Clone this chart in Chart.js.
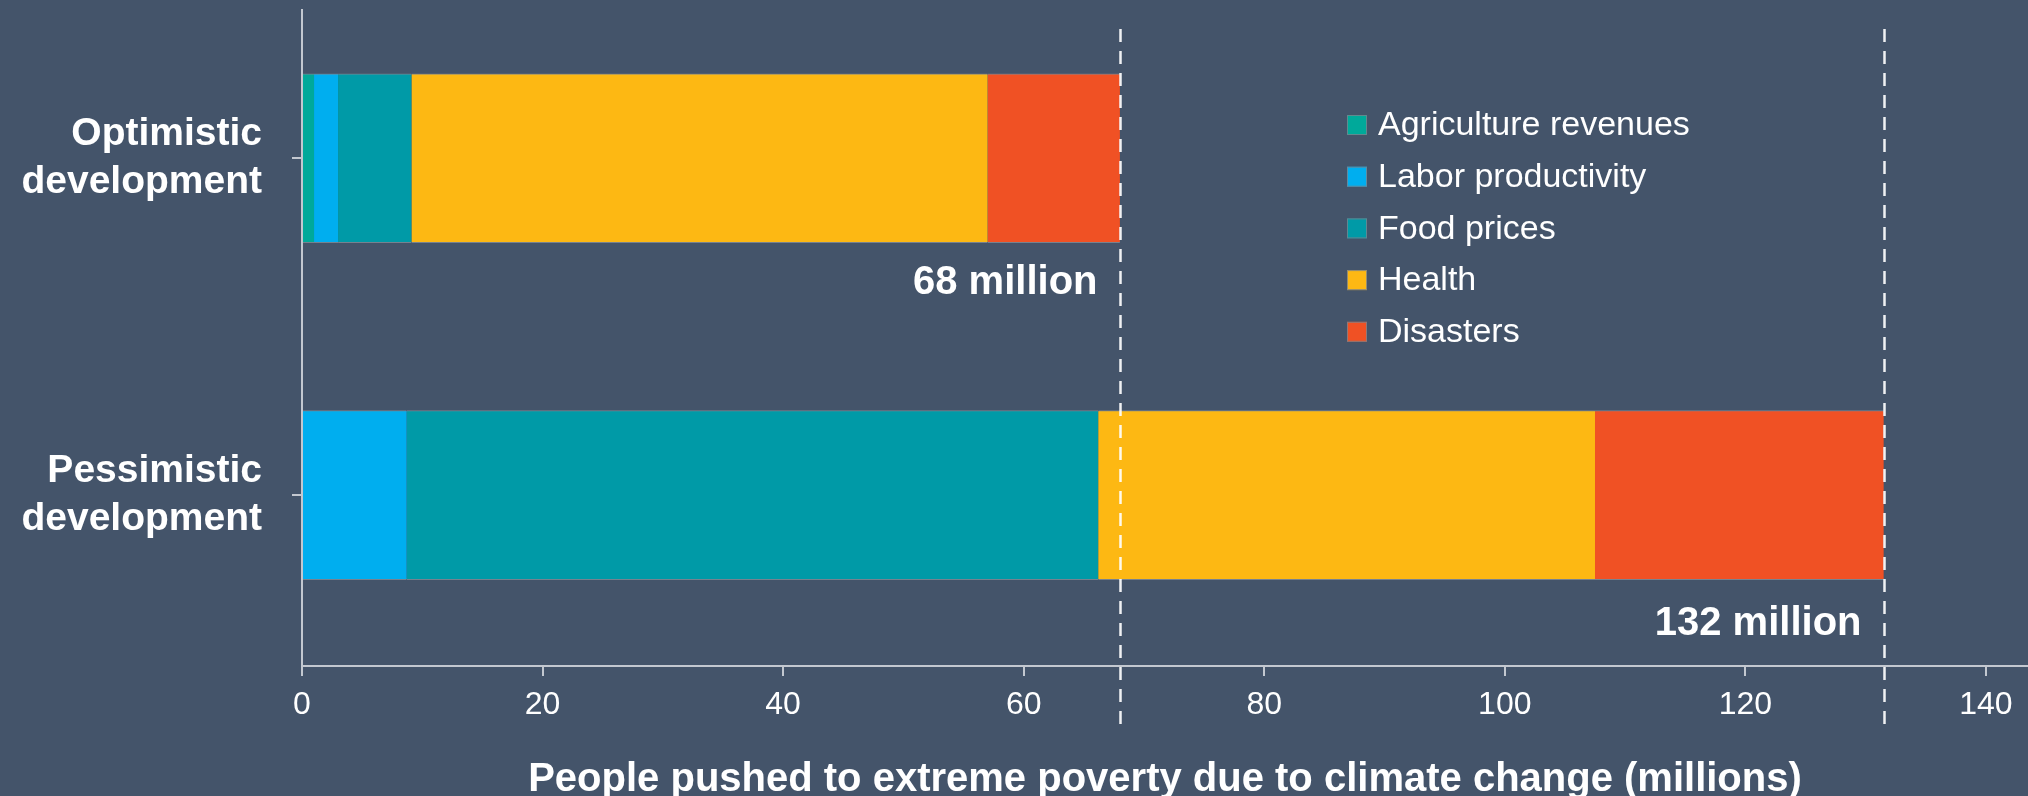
<!DOCTYPE html>
<html>
<head>
<meta charset="utf-8">
<script src="https://cdn.jsdelivr.net/npm/chart.js@4/dist/chart.umd.min.js"></script>
<style>
  html, body { margin: 0; padding: 0; background: #44546A; }
  #wrap { width: 2028px; height: 796px; position: relative; }
  canvas { display: block; }
</style>
</head>
<body>
<div id="wrap"><canvas id="c" width="2028" height="796"></canvas></div>
<script>
// ---- data ----
const categories = [['Optimistic', 'development'], ['Pessimistic', 'development']];
const seriesNames = ['Agriculture revenues', 'Labor productivity', 'Food prices', 'Health', 'Disasters'];
const agricultureRevenues = [1.0, 0];
const laborProductivity = [2.0, 8.7];
const foodPrices = [6.1, 57.5];
const health = [47.9, 41.3];
const disasters = [11.0, 24.0];
const totalLabels = ['68 million', '132 million'];
const xTickValues = [0, 20, 40, 60, 80, 100, 120, 140];
const axisTitle = 'People pushed to extreme poverty due to climate change (millions)';

// ---- styles ----
const BG = '#44546A';
const seriesColors = ['#00A99A', '#00AEEF', '#009AA7', '#FDB813', '#F05124'];
const FONT = "'Liberation Sans', Arial, Helvetica, sans-serif";
const AXIS = '#c3c8d0';

const seriesValues = [agricultureRevenues, laborProductivity, foodPrices, health, disasters];
const totals = categories.map((c, i) => seriesValues.reduce((s, arr) => s + arr[i], 0));

const datasets = seriesNames.map((name, k) => ({
  label: name,
  data: seriesValues[k].map((v, i) => ({ x: v, y: i })),
  backgroundColor: seriesColors[k],
  borderColor: 'rgba(125,135,148,0.9)',
  borderWidth: { top: 1, bottom: 1, left: 0, right: 0 },
  borderSkipped: false,
  barThickness: 169
}));

const overlay = {
  id: 'overlay',
  beforeDraw(chart) {
    const ctx = chart.ctx;
    ctx.save();
    ctx.fillStyle = BG;
    ctx.fillRect(0, 0, chart.width, chart.height);
    ctx.restore();
  },
  afterDraw(chart) {
    const { ctx, scales: { x, y } } = chart;
    ctx.save();
    // dashed total lines and total labels
    totals.forEach((t, i) => {
      const px = Math.round(x.getPixelForValue(t)) + 0.5;
      ctx.strokeStyle = 'rgba(255,255,255,0.92)';
      ctx.lineWidth = 2.5;
      ctx.setLineDash([13, 9]);
      ctx.beginPath();
      ctx.moveTo(px, 29);
      ctx.lineTo(px, 728);
      ctx.stroke();
      ctx.setLineDash([]);
      ctx.fillStyle = '#ffffff';
      ctx.font = 'bold 40px ' + FONT;
      ctx.textAlign = 'right';
      ctx.textBaseline = 'middle';
      ctx.fillText(totalLabels[i], px - 23, y.getPixelForValue(i) + 125 + i * 4);
    });
    // legend
    ctx.font = '34px ' + FONT;
    ctx.textAlign = 'left';
    ctx.textBaseline = 'middle';
    seriesNames.forEach((name, k) => {
      const cy = 125 + k * 51.7;
      ctx.fillStyle = seriesColors[k];
      ctx.fillRect(1347, cy - 10, 20, 20);
      ctx.strokeStyle = 'rgba(120,130,140,0.8)';
      ctx.lineWidth = 1;
      ctx.strokeRect(1347.5, cy - 9.5, 19, 19);
      ctx.fillStyle = '#ffffff';
      ctx.fillText(name, 1378, cy + 1);
    });
    ctx.restore();
  }
};

new Chart(document.getElementById('c'), {
  type: 'bar',
  data: { datasets },
  plugins: [overlay],
  options: {
    responsive: false,
    animation: false,
    indexAxis: 'y',
    layout: { padding: { top: 10, right: 0, bottom: 0, left: 0 } },
    plugins: { legend: { display: false }, tooltip: { enabled: false } },
    scales: {
      x: {
        type: 'linear',
        stacked: true,
        min: 0,
        max: 143.5,
        afterBuildTicks: s => { s.ticks = xTickValues.map(v => ({ value: v })); },
        ticks: { color: '#ffffff', font: { family: FONT, size: 32 }, padding: 10, maxRotation: 0, autoSkip: false },
        grid: { drawOnChartArea: false, drawTicks: true, tickLength: 10, color: AXIS, lineWidth: 2 },
        border: { color: AXIS, width: 2 },
        title: {
          display: true, text: axisTitle, color: '#ffffff',
          font: { family: FONT, size: 40, weight: 'bold', lineHeight: 0.8 },
          padding: { top: 0, bottom: 0 }
        },
        afterFit: s => { s.height = 130; }
      },
      y: {
        type: 'linear',
        stacked: true,
        reverse: true,
        offset: false,
        min: -0.44,
        max: 1.507,
        afterBuildTicks: s => { s.ticks = categories.map((c, i) => ({ value: i })); },
        ticks: {
          callback: v => categories[v],
          color: '#ffffff', font: { family: FONT, size: 39, weight: 'bold', lineHeight: 1.25 }, padding: 30, autoSkip: false
        },
        grid: { offset: false, drawOnChartArea: false, drawTicks: true, tickLength: 10, color: AXIS, lineWidth: 2 },
        border: { color: AXIS, width: 2 },
        afterFit: s => { s.width = 302; s.paddingTop = 0; s.paddingBottom = 0; }
      }
    }
  }
});
</script>
</body>
</html>
